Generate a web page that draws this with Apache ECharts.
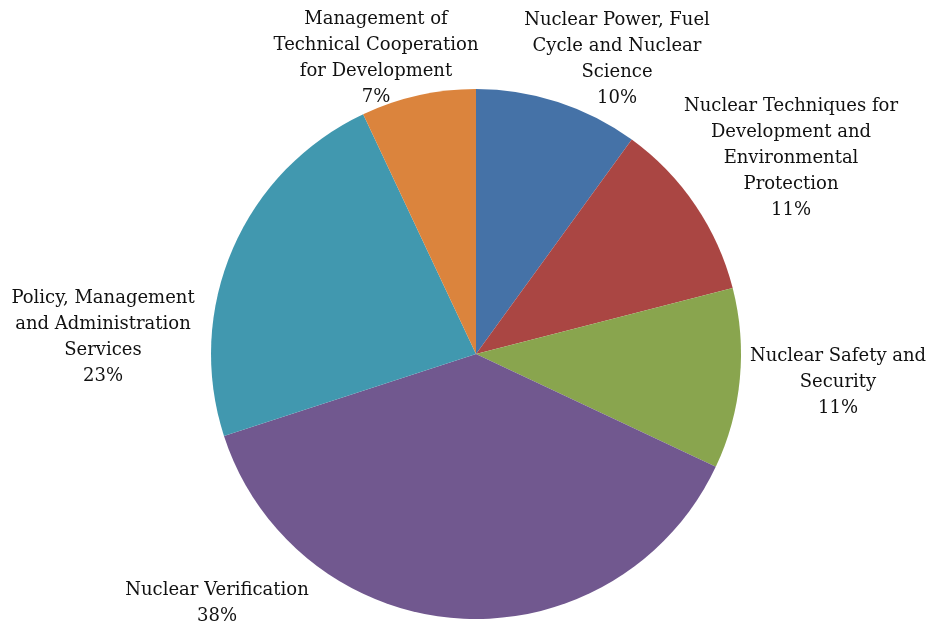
<!DOCTYPE html>
<html><head><meta charset="utf-8">
<script src="https://cdn.jsdelivr.net/npm/echarts@6/dist/echarts.min.js"></script>
<style>html,body{margin:0;padding:0;background:#fff}#c{width:926px;height:626px}</style>
</head><body><div id="c"></div>
<script>
const categories = [
  "Nuclear Power, Fuel\nCycle and Nuclear\nScience",
  "Nuclear Techniques for\nDevelopment and\nEnvironmental\nProtection",
  "Nuclear Safety and\nSecurity",
  "Nuclear Verification",
  "Policy, Management\nand Administration\nServices",
  "Management of\nTechnical Cooperation\nfor Development"
];
const values = [10, 11, 11, 38, 23, 7];
const colors = ["#4572A7", "#AA4643", "#89A54E", "#71588F", "#4198AF", "#DB843D"];
// label centre positions (layout only)
const labelPos = [[617, 59], [791, 158], [838, 382], [217, 603], [103, 337], [376, 58]];

const chart = echarts.init(document.getElementById('c'));
chart.setOption({
  animation: false,
  color: colors,
  series: [{
    type: 'pie',
    center: [476, 354],
    radius: 265,
    startAngle: 90,
    clockwise: true,
    percentPrecision: 0,
    data: categories.map((n, i) => ({ name: n, value: values[i] })),
    itemStyle: { borderWidth: 0 },
    label: {
      show: true,
      position: 'outside',
      formatter: '{b}\n{d}%',
      fontFamily: 'DejaVu Serif',
      fontSize: 18,
      lineHeight: 26,
      color: '#111',
      align: 'center',
      overflow: 'none',
      width: 300
    },
    labelLine: { show: false },
    labelLayout: function (p) {
      const pos = labelPos[p.dataIndex];
      return { x: pos[0], y: pos[1], align: 'center', verticalAlign: 'middle' };
    }
  }]
});
</script></body></html>
